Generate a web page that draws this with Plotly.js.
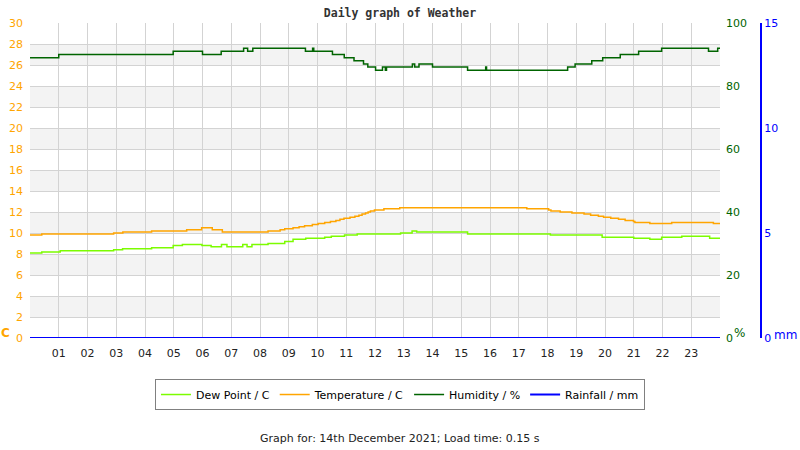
<!DOCTYPE html>
<html>
<head>
<meta charset="utf-8">
<script src="https://cdn.plot.ly/plotly-3.0.1.min.js"></script>
<style>html,body{margin:0;padding:0;background:#fff;}#chart{width:800px;height:450px;}</style>
</head>
<body>
<div id="chart"></div>
<script>
// ---- data (hours of day, readings) ----
const hourTicks = [0,1,2,3,4,5,6,7,8,9,10,11,12,13,14,15,16,17,18,19,20,21,22,23,24];
const hourLabels = ['','01','02','03','04','05','06','07','08','09','10','11','12','13','14','15','16','17','18','19','20','21','22','23',''];

const dewHours = [0,0.41,1.05,2.91,3.22,4.23,4.98,5.3,5.98,6.3,6.66,6.85,7.4,7.55,7.72,8.28,8.86,9.15,9.59,10.25,10.48,10.94,11.38,12.89,13.29,13.45,15.22,18.1,19.9,21.0,21.56,21.97,22.67,23.64,24];
const dewPoint = [8.1,8.2,8.3,8.4,8.5,8.6,8.8,8.9,8.8,8.7,8.9,8.7,8.9,8.7,8.9,9.0,9.2,9.4,9.5,9.6,9.7,9.8,9.9,10.0,10.2,10.1,9.9,9.8,9.6,9.5,9.4,9.6,9.7,9.5,9.5];

const tempHours = [0,0.41,2.91,3.23,4.23,5.45,5.97,6.34,6.69,8.28,8.7,8.86,9.15,9.36,9.55,9.82,10.02,10.25,10.45,10.64,10.78,10.92,11.13,11.3,11.44,11.55,11.67,11.76,11.84,11.98,12.31,12.86,17.28,18.04,18.12,18.44,18.85,19.27,19.5,19.77,19.95,20.2,20.47,20.7,20.99,21.04,21.56,22.32,23.77,24];
const temperature = [9.8,9.9,10.0,10.1,10.2,10.3,10.5,10.3,10.1,10.2,10.3,10.4,10.5,10.6,10.7,10.8,10.9,11.0,11.1,11.2,11.3,11.4,11.5,11.6,11.7,11.8,11.9,12.0,12.1,12.2,12.3,12.4,12.3,12.2,12.1,12.0,11.9,11.8,11.7,11.6,11.5,11.4,11.3,11.2,11.1,11.0,10.9,11.0,10.9,10.9];

const humHours = [0,1.0,4.98,6.0,6.65,7.43,7.57,7.75,9.58,9.83,9.87,10.52,10.93,11.27,11.6,11.75,12.02,12.26,12.36,12.4,13.3,13.38,13.53,14.0,15.22,15.85,15.88,18.7,18.96,19.54,19.92,20.53,21.17,21.97,23.6,23.92,24];
const humidity = [89,90,91,90,91,92,91,92,91,92,91,90,89,88,87,86,85,86,85,86,87,86,87,86,85,86,85,86,87,88,89,90,91,92,91,92,92];

const rainHours = [0,24];
const rainfall = [0,0];

// ---- chart ----
const traces = [
  {x: dewHours, y: dewPoint, name: 'Dew Point / C', type: 'scatter', mode: 'lines',
   line: {color: '#7CFC00', width: 1.5, shape: 'hv'}, yaxis: 'y'},
  {x: tempHours, y: temperature, name: 'Temperature / C', type: 'scatter', mode: 'lines',
   line: {color: '#FFA500', width: 1.5, shape: 'hv'}, yaxis: 'y'},
  {x: humHours, y: humidity, name: 'Humidity / %', type: 'scatter', mode: 'lines',
   line: {color: '#006400', width: 1.5, shape: 'hv'}, yaxis: 'y2'},
  {x: rainHours, y: rainfall, name: 'Rainfall / mm', type: 'scatter', mode: 'lines',
   line: {color: '#0000FF', width: 2}, yaxis: 'y3'}
];

const bands = [];
for (let v = 2; v < 30; v += 4) {
  bands.push({type: 'rect', xref: 'x domain', yref: 'y', x0: 0, x1: 1, y0: v, y1: v + 2,
              fillcolor: '#f3f3f3', line: {width: 0}, layer: 'below'});
}

const baseFont = {family: 'DejaVu Sans', size: 11, color: '#222'};
const layout = {
  width: 800, height: 450,
  margin: {l: 30, r: 10, t: 23, b: 112},
  paper_bgcolor: '#fff', plot_bgcolor: '#fff',
  font: baseFont,
  title: {text: 'Daily graph of Weather', font: {family: 'DejaVu Sans Mono', size: 11.5, color: '#333', weight: 'bold'},
          xref: 'container', x: 0.5, xanchor: 'center', yref: 'container', y: 0.971, yanchor: 'middle'},
  xaxis: {domain: [0, 0.9079], range: [0, 24], tickvals: hourTicks, ticktext: hourLabels,
          showgrid: true, gridcolor: '#d3d3d3', gridwidth: 1, zeroline: false, showline: false,
          ticks: '', ticklabelstandoff: 7, tickfont: {family: 'DejaVu Sans', size: 11, color: '#222'}, fixedrange: true},
  yaxis: {range: [0, 30], tick0: 0, dtick: 2, showgrid: true, gridcolor: '#d3d3d3', zeroline: false,
          ticks: '', ticklabelstandoff: 6, tickfont: {family: 'DejaVu Sans', size: 11, color: '#FFA500'}},
  yaxis2: {overlaying: 'y', side: 'right', anchor: 'x', range: [0, 100], tick0: 0, dtick: 20,
           showgrid: false, zeroline: false, ticks: '', ticklabelstandoff: 5,
           tickfont: {family: 'DejaVu Sans', size: 11, color: '#006400'}},
  yaxis3: {overlaying: 'y', side: 'right', anchor: 'free', position: 0.9618, range: [0, 15], tick0: 0, dtick: 5,
           showgrid: false, zeroline: false, showline: true, linecolor: '#0000FF', linewidth: 2, ticks: '',
           ticklabelstandoff: 0, tickfont: {family: 'DejaVu Sans', size: 11, color: '#0000FF'}},
  showlegend: true,
  legend: {orientation: 'h', x: 0.4868, xanchor: 'center', y: -0.1302, yanchor: 'top',
           bordercolor: '#808080', borderwidth: 1, bgcolor: '#fff',
           font: {family: 'DejaVu Sans', size: 11, color: '#000'}, itemwidth: 30, tracegroupgap: 0},
  shapes: bands,
  annotations: [
    {text: 'C', xref: 'paper', yref: 'paper', x: -0.0316, y: 0.0159, xanchor: 'center', yanchor: 'middle', showarrow: false,
     font: {family: 'DejaVu Sans', size: 12, color: '#FFA500', weight: 'bold'}},
    {text: '%', xref: 'paper', yref: 'paper', x: 0.9329, y: 0.0159, xanchor: 'center', yanchor: 'middle', showarrow: false,
     font: {family: 'DejaVu Sans', size: 12, color: '#006400'}},
    {text: 'mm', xref: 'paper', yref: 'paper', x: 0.9947, y: 0.0095, xanchor: 'center', yanchor: 'middle', showarrow: false,
     font: {family: 'DejaVu Sans', size: 12, color: '#0000FF'}},
    {text: 'Graph for: 14th December 2021; Load time: 0.15 s', xref: 'paper', yref: 'paper',
     x: 0.4868, y: -0.3175, showarrow: false, xanchor: 'center', yanchor: 'middle',
     font: {family: 'DejaVu Sans', size: 11, color: '#222'}}
  ]
};

Plotly.newPlot('chart', traces, layout, {staticPlot: true, displayModeBar: false});
</script>
</body>
</html>
